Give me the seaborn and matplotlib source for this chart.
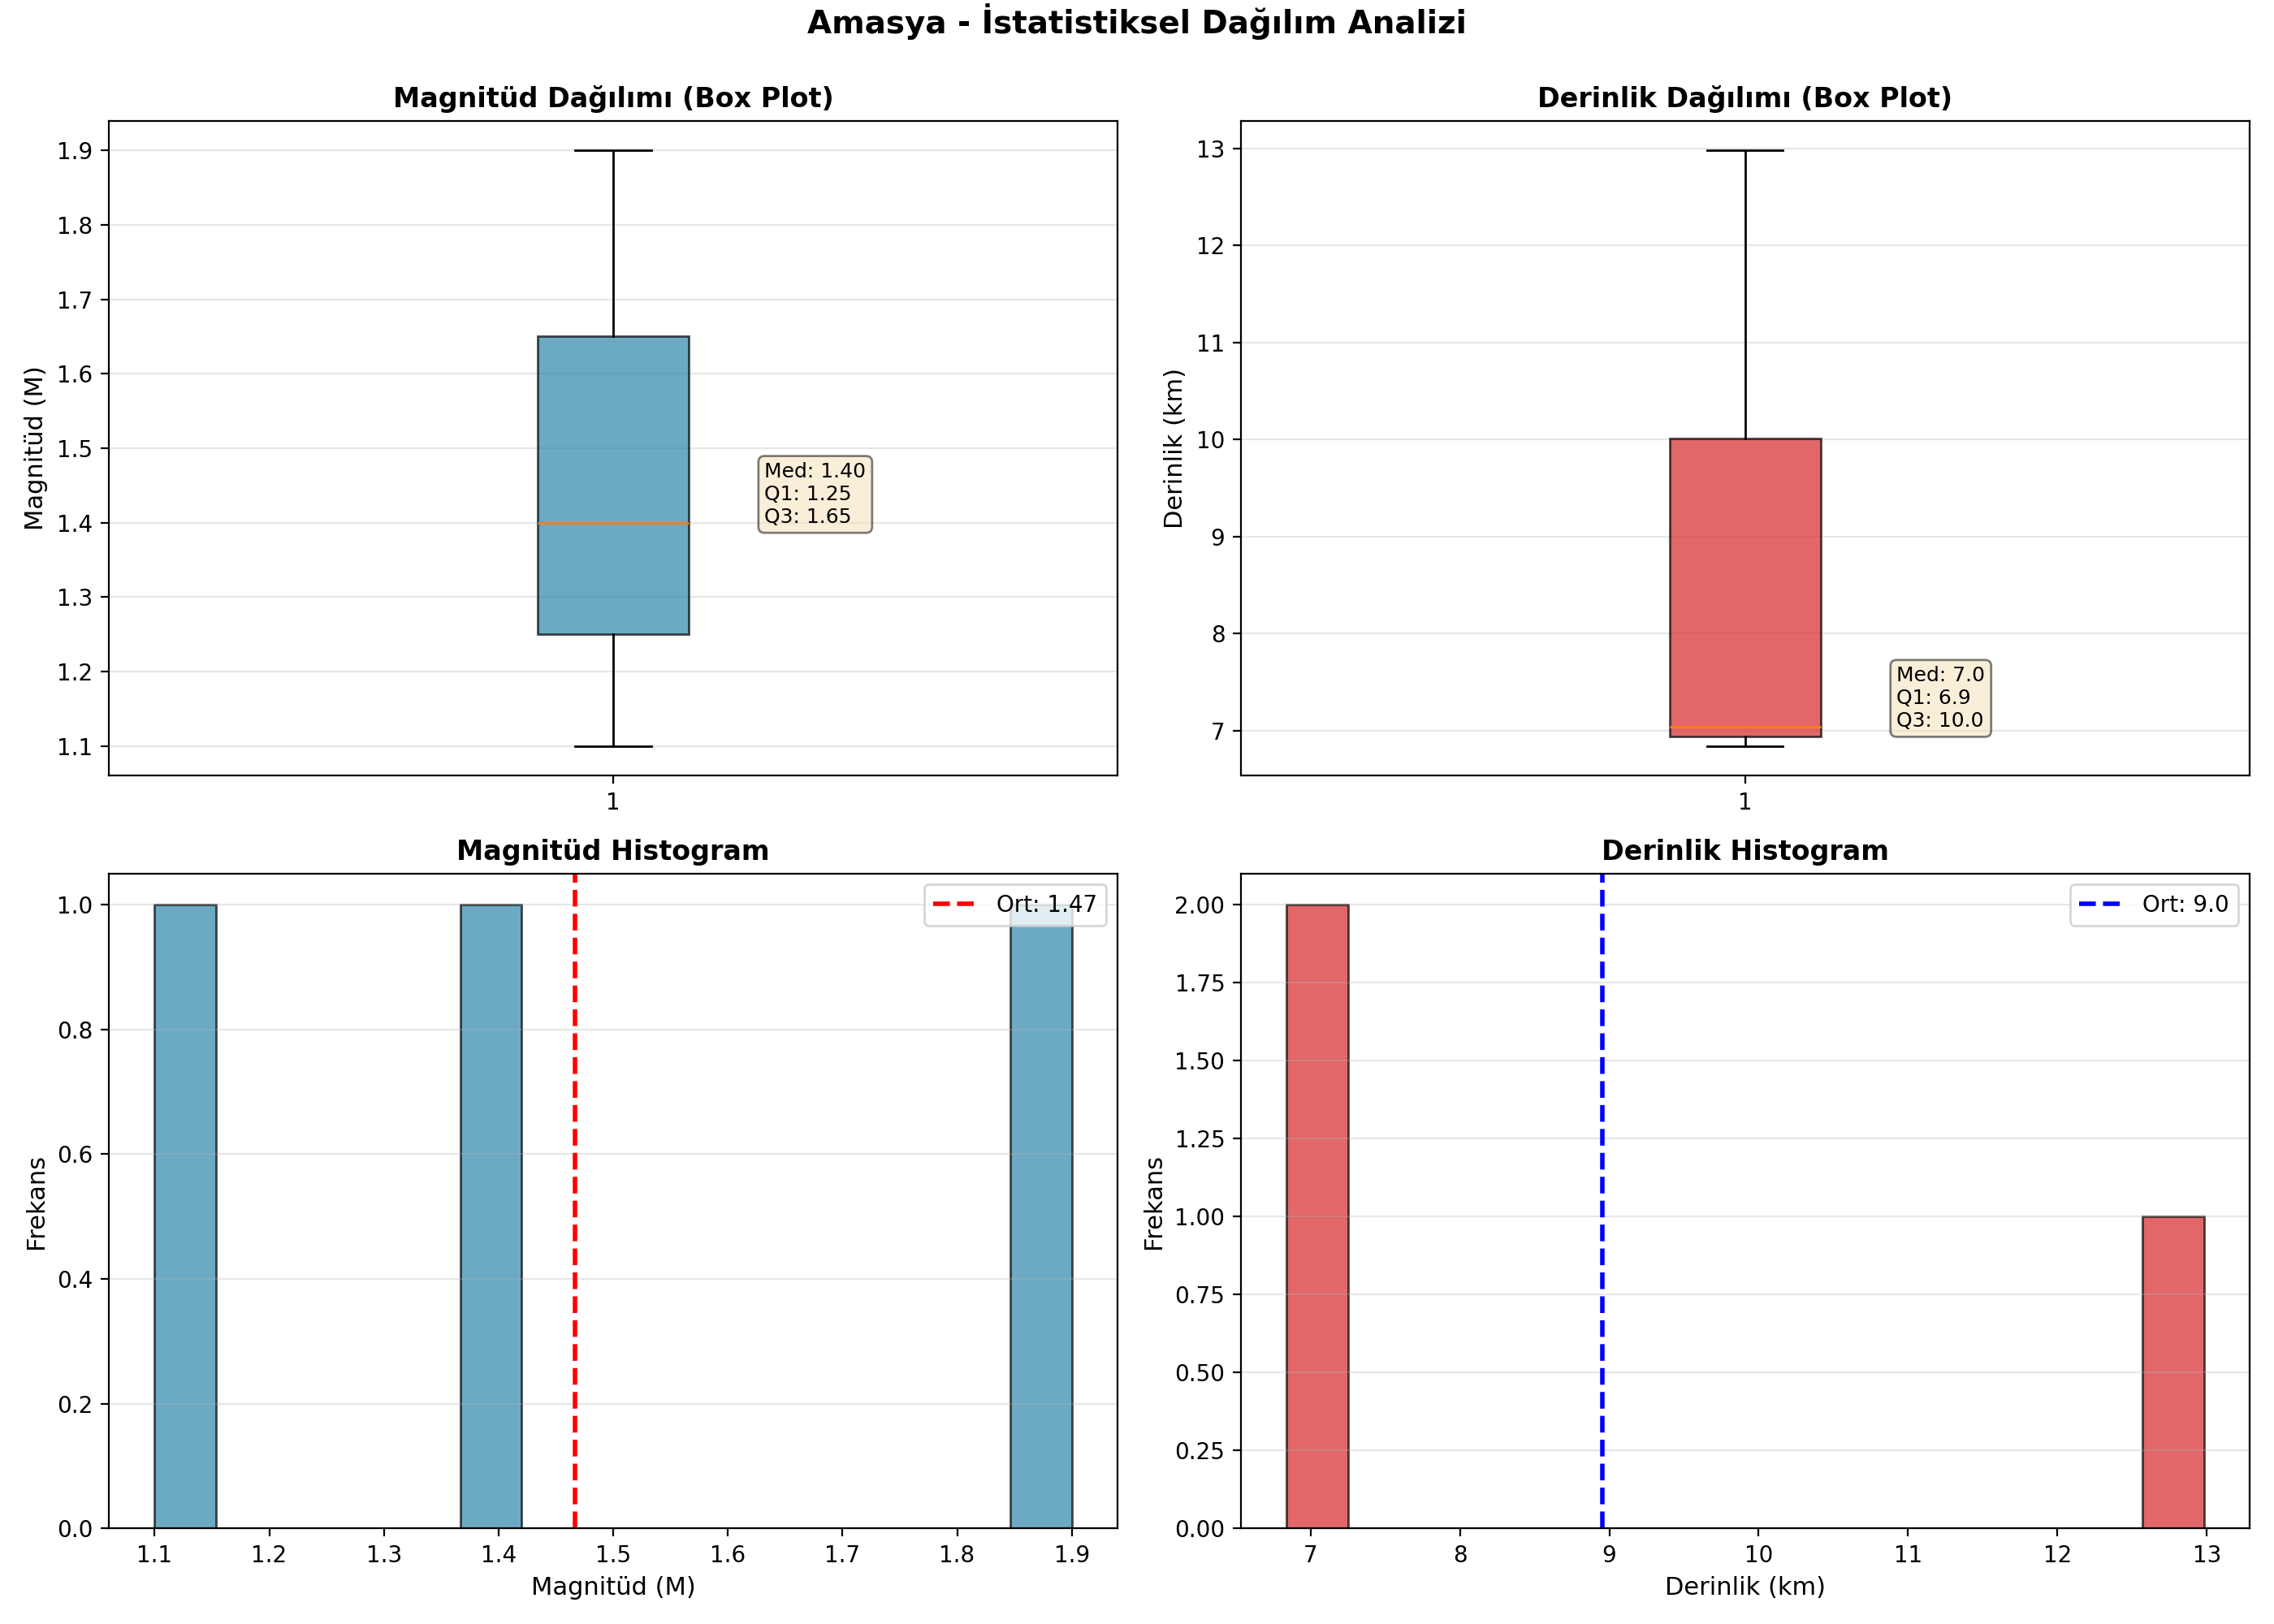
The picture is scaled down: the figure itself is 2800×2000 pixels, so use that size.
import numpy as np
import matplotlib
matplotlib.use("Agg")
import matplotlib.pyplot as plt
import seaborn as sns

# Amasya earthquake data
magnitudes = [1.1, 1.4, 1.9]
depths = [6.84, 7.04, 12.98]

city = "Amasya"
mag_color = "#2E86AB"
depth_color = "#d62728"

plt.rcParams["font.family"] = ["DejaVu Sans"]

fig, axes = plt.subplots(2, 2, figsize=(14, 10), dpi=200)
fig.suptitle(f"{city} - İstatistiksel Dağılım Analizi", fontsize=14, fontweight="bold", y=0.998)


def box_panel(ax, values, color, title, ylabel, fmt):
    bp = ax.boxplot(values, patch_artist=True, widths=0.15)
    for patch in bp["boxes"]:
        patch.set_facecolor(color)
        patch.set_alpha(0.7)
    ax.set_title(title, fontsize=12, fontweight="bold")
    ax.set_ylabel(ylabel, fontsize=11)
    ax.grid(True, axis="y", alpha=0.3)
    q1, med, q3 = np.percentile(values, [25, 50, 75])
    ax.text(1.15, med, f"Med: {med:{fmt}}\nQ1: {q1:{fmt}}\nQ3: {q3:{fmt}}",
            fontsize=9, bbox=dict(boxstyle="round", facecolor="wheat", alpha=0.5))


def hist_panel(ax, values, color, line_color, title, xlabel, fmt):
    sns.histplot(x=values, bins=15, color=color, alpha=0.7,
                 edgecolor=(0, 0, 0, 0.7), ax=ax)
    mean = np.mean(values)
    ax.axvline(mean, color=line_color, linestyle="--", linewidth=2, label=f"Ort: {mean:{fmt}}")
    ax.set_title(title, fontsize=12, fontweight="bold")
    ax.set_xlabel(xlabel, fontsize=11)
    ax.set_ylabel("Frekans", fontsize=11)
    ax.legend(loc="upper right")
    ax.grid(True, axis="y", alpha=0.3)


box_panel(axes[0, 0], magnitudes, mag_color, "Magnitüd Dağılımı (Box Plot)", "Magnitüd (M)", ".2f")
box_panel(axes[0, 1], depths, depth_color, "Derinlik Dağılımı (Box Plot)", "Derinlik (km)", ".1f")
hist_panel(axes[1, 0], magnitudes, mag_color, "red", "Magnitüd Histogram", "Magnitüd (M)", ".2f")
hist_panel(axes[1, 1], depths, depth_color, "blue", "Derinlik Histogram", "Derinlik (km)", ".1f")

plt.tight_layout()
plt.savefig("out.png", dpi=200)
